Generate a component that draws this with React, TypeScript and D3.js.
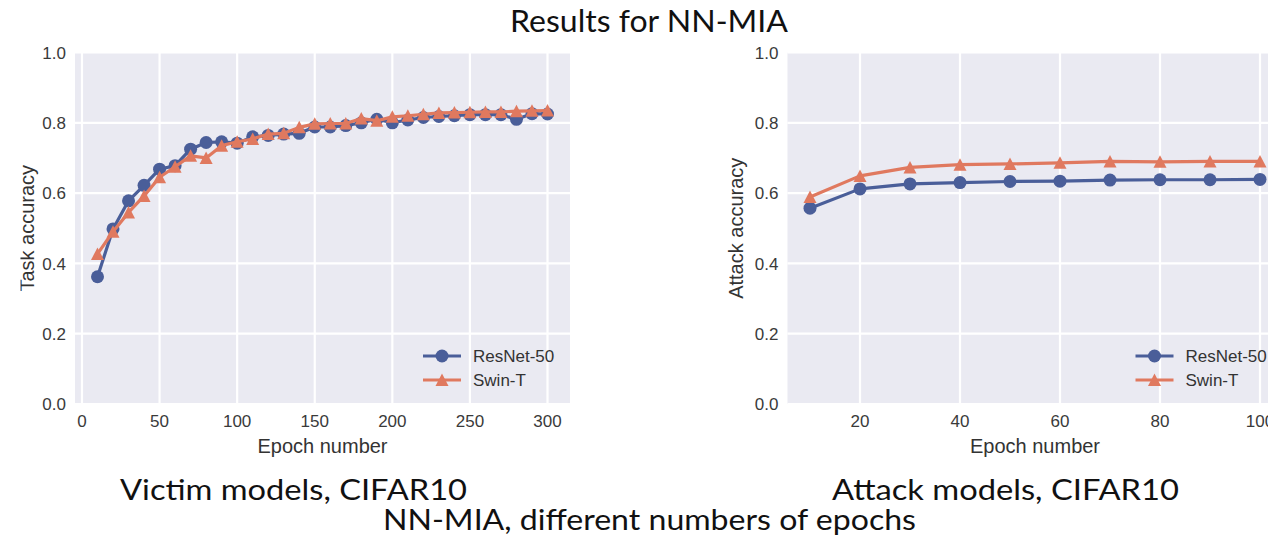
import React, { useEffect, useRef } from 'react';
import * as d3 from 'd3';

// victim models (CIFAR10)
const victimEpochs = [10, 20, 30, 40, 50, 60, 70, 80, 90, 100, 110, 120, 130, 140, 150, 160, 170, 180, 190, 200, 210, 220, 230, 240, 250, 260, 270, 280, 290, 300];
const victimResNet = [0.362, 0.498, 0.578, 0.622, 0.668, 0.678, 0.725, 0.744, 0.746, 0.742, 0.760, 0.764, 0.768, 0.770, 0.788, 0.788, 0.792, 0.800, 0.810, 0.800, 0.808, 0.815, 0.818, 0.820, 0.823, 0.823, 0.823, 0.810, 0.826, 0.825];
const victimSwin = [0.427, 0.490, 0.545, 0.592, 0.645, 0.675, 0.706, 0.700, 0.735, 0.746, 0.754, 0.768, 0.770, 0.787, 0.797, 0.798, 0.798, 0.812, 0.806, 0.817, 0.820, 0.824, 0.828, 0.829, 0.830, 0.831, 0.831, 0.833, 0.834, 0.835];
const victimXTicks = [0, 50, 100, 150, 200, 250, 300];

// attack models (CIFAR10)
const attackEpochs = [10, 20, 30, 40, 50, 60, 70, 80, 90, 100];
const attackResNet = [0.557, 0.612, 0.626, 0.630, 0.633, 0.634, 0.637, 0.638, 0.638, 0.639];
const attackSwin = [0.589, 0.649, 0.673, 0.681, 0.683, 0.686, 0.690, 0.689, 0.690, 0.690];
const attackXTicks = [20, 40, 60, 80, 100];

const yTicks = [0, 0.2, 0.4, 0.6, 0.8, 1.0];
const seriesNames = ['ResNet-50', 'Swin-T'];

const BLUE = '#4a5e99';
const ORANGE = '#e0795f';
const FONT = '"Liberation Sans", Arial, sans-serif';
const TITLE_FONT = 'Lato, "Open Sans", sans-serif';

function drawPanel(root, opts) {
    const { left, right, top, bottom, epochs, resnet, swin, xTicks, yLabel, yLabelX, clipX } = opts;

    const pad = (d3.max(epochs) - d3.min(epochs)) * 0.05;
    const xScale = d3.scaleLinear()
        .domain([d3.min(epochs) - pad, d3.max(epochs) + pad])
        .range([left, right]);
    const yScale = d3.scaleLinear().domain([0, 1]).range([bottom, top]);

    const g = root.append('g');

    g.append('rect')
        .attr('x', left).attr('y', top)
        .attr('width', right - left).attr('height', bottom - top)
        .attr('fill', '#eaeaf2');

    g.selectAll('.gx').data(xTicks).enter().append('line')
        .attr('x1', d => xScale(d)).attr('x2', d => xScale(d))
        .attr('y1', top).attr('y2', bottom)
        .attr('stroke', '#fff').attr('stroke-width', 2.2);

    g.selectAll('.gy').data(yTicks).enter().append('line')
        .attr('x1', left).attr('x2', right)
        .attr('y1', d => yScale(d)).attr('y2', d => yScale(d))
        .attr('stroke', '#fff').attr('stroke-width', 2.2);

    g.selectAll('.tx').data(xTicks).enter().append('text')
        .attr('x', d => xScale(d)).attr('y', bottom + 22.5)
        .attr('text-anchor', 'middle')
        .style('font-family', FONT).style('font-size', '17px').style('fill', '#3a3a3a')
        .text(d => d3.format('d')(d));

    g.selectAll('.ty').data(yTicks).enter().append('text')
        .attr('x', left - 9).attr('y', d => yScale(d)).attr('dy', '0.36em')
        .attr('text-anchor', 'end')
        .style('font-family', FONT).style('font-size', '17px').style('fill', '#3a3a3a')
        .text(d => d3.format('.1f')(d));

    g.append('text')
        .attr('x', (left + right) / 2).attr('y', bottom + 49)
        .attr('text-anchor', 'middle')
        .style('font-family', FONT).style('font-size', '20px').style('fill', '#333')
        .text('Epoch number');

    // the source figure was cropped through the left y label
    const ylg = g.append('g');
    if (clipX) ylg.attr('clip-path', 'url(#leftcut)');
    ylg.append('text')
        .attr('transform', `translate(${yLabelX},${(top + bottom) / 2}) rotate(-90)`)
        .attr('text-anchor', 'middle')
        .style('font-family', FONT).style('font-size', '20px').style('fill', '#333')
        .text(yLabel);

    const line = d3.line().x(d => xScale(d[0])).y(d => yScale(d[1]));
    const tri = d3.line()([[0, -6.5], [6.5, 6], [-6.5, 6]]) + 'Z';

    const rs = epochs.map((e, i) => [e, resnet[i]]);
    const sw = epochs.map((e, i) => [e, swin[i]]);

    g.append('path').datum(rs).attr('d', line)
        .attr('fill', 'none').attr('stroke', BLUE).attr('stroke-width', 3.2).attr('stroke-linejoin', 'round');
    g.selectAll('.rc').data(rs).enter().append('circle')
        .attr('cx', d => xScale(d[0])).attr('cy', d => yScale(d[1])).attr('r', 6.5)
        .attr('fill', BLUE);

    g.append('path').datum(sw).attr('d', line)
        .attr('fill', 'none').attr('stroke', ORANGE).attr('stroke-width', 3.2).attr('stroke-linejoin', 'round');
    g.selectAll('.st').data(sw).enter().append('path')
        .attr('d', tri)
        .attr('transform', d => `translate(${xScale(d[0])},${yScale(d[1])})`)
        .attr('fill', ORANGE);

    // legend
    const lx = right - 147;
    const rows = [356, 380];
    seriesNames.forEach((name, i) => {
        const col = i === 0 ? BLUE : ORANGE;
        g.append('line')
            .attr('x1', lx).attr('x2', lx + 38).attr('y1', rows[i]).attr('y2', rows[i])
            .attr('stroke', col).attr('stroke-width', 3.2);
        if (i === 0) {
            g.append('circle').attr('cx', lx + 19).attr('cy', rows[i]).attr('r', 6.5).attr('fill', col);
        } else {
            g.append('path').attr('d', tri).attr('transform', `translate(${lx + 19},${rows[i]})`).attr('fill', col);
        }
        g.append('text')
            .attr('x', lx + 50).attr('y', rows[i]).attr('dy', '0.36em')
            .style('font-family', FONT).style('font-size', '17px').style('fill', '#333')
            .text(name);
    });
}

export default function App() {
    const ref = useRef(null);

    useEffect(() => {
        const svg = d3.select(ref.current);
        svg.selectAll('*').remove();

        svg.append('defs').append('clipPath').attr('id', 'leftcut')
            .append('rect').attr('x', 20.5).attr('y', 0).attr('width', 2000).attr('height', 2000);

        drawPanel(svg, {
            left: 75, right: 570, top: 52.5, bottom: 404,
            epochs: victimEpochs, resnet: victimResNet, swin: victimSwin,
            xTicks: victimXTicks, yLabel: 'Task accuracy', yLabelX: 33.5, clipX: true,
        });
        drawPanel(svg, {
            left: 787.5, right: 1282.5, top: 52.5, bottom: 404,
            epochs: attackEpochs, resnet: attackResNet, swin: attackSwin,
            xTicks: attackXTicks, yLabel: 'Attack accuracy', yLabelX: 743, clipX: false,
        });

        const title = (txt, x, y, size, len) => svg.append('text')
            .attr('x', x).attr('y', y).attr('text-anchor', 'middle')
            .attr('textLength', len).attr('lengthAdjust', 'spacingAndGlyphs')
            .style('font-family', TITLE_FONT).style('font-size', size + 'px').style('fill', '#111')
            .text(txt);

        title('Results for NN-MIA', 649, 32, 30, 278);
        title('Victim models, CIFAR10', 293.5, 500, 29, 347);
        title('Attack models, CIFAR10', 1005.5, 500, 29, 347);
        title('NN-MIA, different numbers of epochs', 649.5, 530, 29, 533);
    }, []);

    return (
        <svg ref={ref} width={1268} height={538}
            style={{ position: 'absolute', left: 0, top: 0, background: '#fff' }} />
    );
}
